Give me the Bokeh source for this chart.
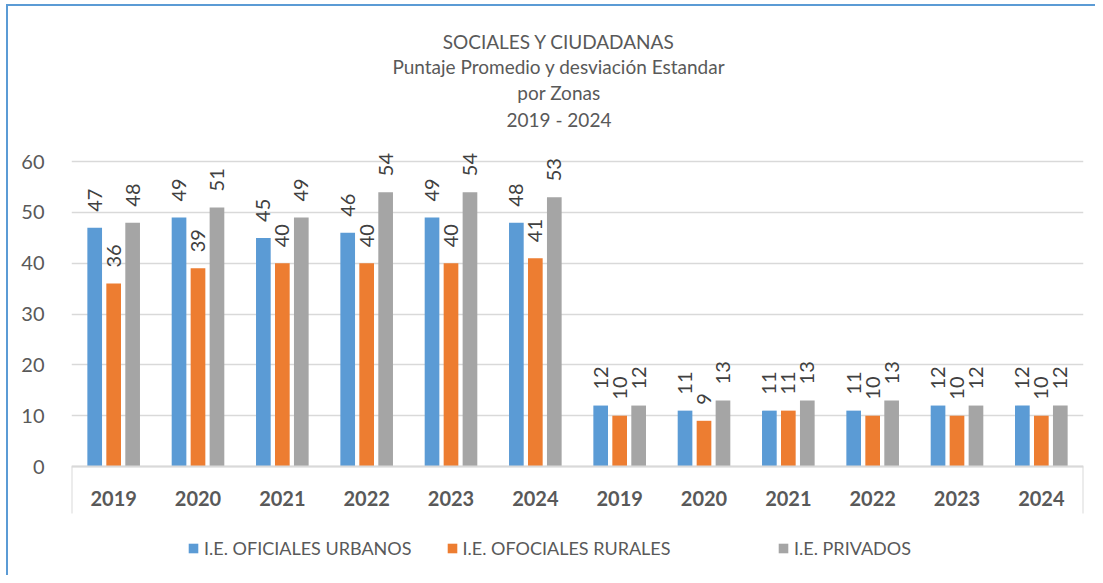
import numpy as np
from bokeh.plotting import figure
from bokeh.models import Range1d, FixedTicker, Label, Legend, LegendItem
from bokeh.embed import file_html
from bokeh.resources import INLINE
from bokeh.core.properties import value

# ---- data ----
years = ["2019", "2020", "2021", "2022", "2023", "2024",
         "2019", "2020", "2021", "2022", "2023", "2024"]
urbanos = [47, 49, 45, 46, 49, 48, 12, 11, 11, 11, 12, 12]
rurales = [36, 39, 40, 40, 40, 41, 10, 9, 11, 10, 10, 10]
privados = [48, 51, 49, 54, 54, 53, 12, 13, 13, 13, 12, 12]
series_names = ["I.E. OFICIALES URBANOS", "I.E. OFOCIALES RURALES", "I.E. PRIVADOS"]
series_colors = ["#5B9BD5", "#ED7D31", "#A5A5A5"]
title_lines = ["SOCIALES Y CIUDADANAS",
               "Puntaje Promedio y desviación Estandar",
               "por Zonas",
               "2019 - 2024"]
y_ticks = [0, 10, 20, 30, 40, 50, 60]

FONT = "Lato"
TXT = "#595959"
GRID = "#D9D9D9"

n = len(years)
centers = np.arange(n) + 0.5

# frame covers title, plot area, x-axis labels and legend; the x axis is
# pinned at y = 0 with fixed_location
p = figure(frame_width=1012, frame_height=551,
           x_range=Range1d(0, n), y_range=Range1d(-21.45, 87),
           output_backend="svg", toolbar_location=None,
           min_border_left=63, min_border_right=12, min_border_top=18,
           min_border_bottom=0)
p.styles = {"border-left": "2px solid #5B9BD5", "border-top": "2px solid #5B9BD5",
            "margin-left": "6px", "margin-top": "4px"}
p.outline_line_color = None
p.background_fill_color = "white"

offsets = [-0.225, 0.0, 0.225]
bar_w = 0.174
items = []
for vals, name, col, off in zip([urbanos, rurales, privados], series_names,
                                series_colors, offsets):
    xs = centers + off
    r = p.vbar(x=xs, top=vals, width=bar_w, fill_color=col, line_color=None)
    items.append(LegendItem(label=name, renderers=[r]))
    p.text(x=xs, y=vals, text=[str(v) for v in vals], angle=np.pi / 2,
           text_align="left", text_baseline="middle", y_offset=-16,
           text_font=value(FONT), text_font_size="20px", text_color="#404040")

# y axis
p.yaxis.ticker = FixedTicker(ticks=y_ticks)
p.yaxis.axis_line_color = None
p.yaxis.major_tick_line_color = None
p.yaxis.minor_tick_line_color = None
p.yaxis.major_tick_out = 0
p.yaxis.minor_tick_out = 0
p.yaxis.major_label_standoff = 27
p.yaxis.major_label_text_font = FONT
p.yaxis.major_label_text_font_size = "20px"
p.yaxis.major_label_text_color = TXT

p.ygrid.ticker = FixedTicker(ticks=y_ticks)
p.ygrid.grid_line_color = GRID
p.ygrid.grid_line_width = 1.5
p.xgrid.grid_line_color = None

# x axis (pinned at y = 0)
p.xaxis.fixed_location = 0
p.xaxis.ticker = FixedTicker(ticks=list(centers), minor_ticks=[0, n])
p.xaxis.major_label_overrides = {float(c): y for c, y in zip(centers, years)}
p.xaxis.axis_line_color = GRID
p.xaxis.axis_line_width = 2
p.xaxis.major_tick_line_color = None
p.xaxis.major_tick_out = 0
p.xaxis.major_tick_in = 0
p.xaxis.minor_tick_line_color = GRID
p.xaxis.minor_tick_line_width = 2
p.xaxis.minor_tick_out = 47
p.xaxis.minor_tick_in = 0
p.xaxis.major_label_standoff = -23
p.xaxis.major_label_text_font = FONT
p.xaxis.major_label_text_font_size = "20px"
p.xaxis.major_label_text_font_style = "bold"
p.xaxis.major_label_text_color = TXT

# title lines (inside the extended frame, above the 60 gridline)
title_y = [83.7, 78.7, 73.6, 68.4]
for t, ty in zip(title_lines, title_y):
    p.add_layout(Label(x=5.78, y=ty, text=t, text_align="center",
                       text_baseline="middle", text_font=FONT,
                       text_font_size="19px", text_color=TXT))

legend_style = dict(orientation="horizontal", label_text_font=FONT,
                    label_text_font_size="18px", label_text_color=TXT,
                    glyph_width=12, glyph_height=12, label_standoff=5,
                    spacing=34, border_line_color=None,
                    background_fill_alpha=0, margin=0, padding=0)
legend1 = Legend(items=items[:2], location=(116, 16), **legend_style)
legend2 = Legend(items=items[2:], location=(706, 16), **legend_style)
p.add_layout(legend1, "center")
p.add_layout(legend2, "center")

open("out.html", "w").write(file_html(p, INLINE))
